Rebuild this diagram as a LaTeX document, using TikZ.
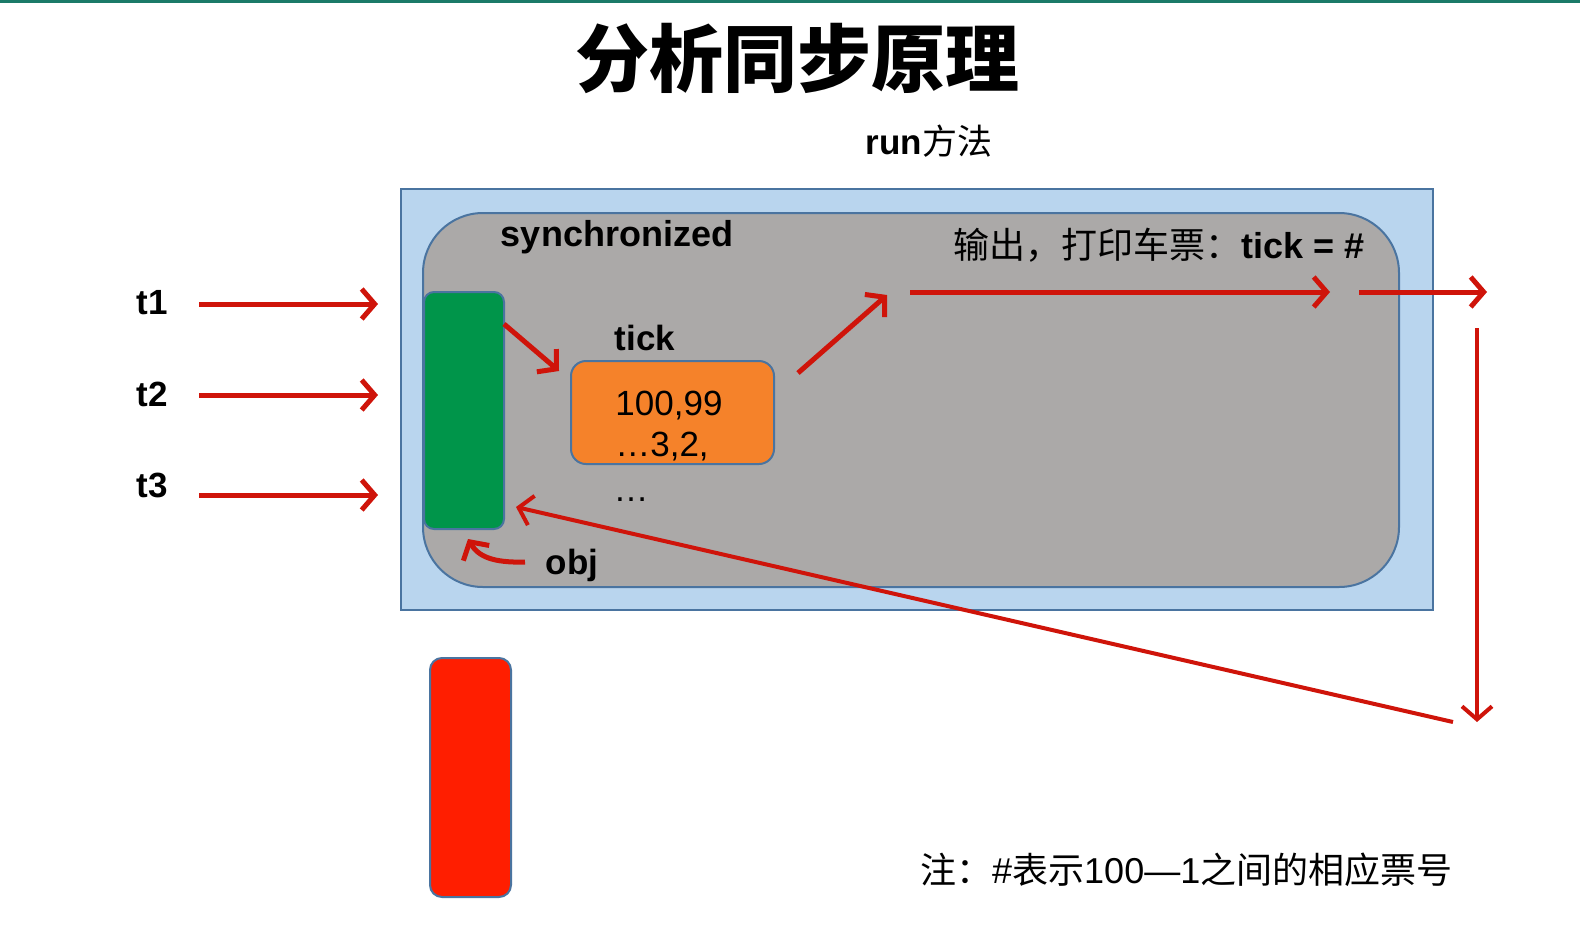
\documentclass[tikz,border=0pt]{standalone}
\usepackage{fontspec}
\setmainfont{Liberation Sans}
\newfontfamily\cjk{Noto Sans CJK SC}
\usetikzlibrary{arrows.meta}
\definecolor{topline}{HTML}{1B7A68}
\definecolor{lightblue}{HTML}{B9D5EE}
\definecolor{edgeblue}{HTML}{4A74A0}
\definecolor{graybox}{HTML}{ABA9A8}
\definecolor{greenbox}{HTML}{00954A}
\definecolor{orangebox}{HTML}{F5822A}
\definecolor{redbox}{HTML}{FF1E00}
\definecolor{arrowred}{HTML}{CF140A}
\tikzset{
  box/.style={draw=edgeblue, line width=2pt, inner sep=0pt},
  redarrow/.style={draw=arrowred, line width=5pt, -{Straight Barb[length=13pt,width=30pt]}},
  thinarrow/.style={draw=arrowred, line width=4pt, -{Straight Barb[length=13pt,width=30pt]}},
  lbl/.style={inner sep=0pt, font=\bfseries\fontsize{35}{35}\selectfont},
  num/.style={inner sep=0pt, font=\fontsize{35}{35}\selectfont},
}
\begin{document}
\begin{tikzpicture}[x=1pt,y=-1pt]
\useasboundingbox (0,0) rectangle (1580,951);
\fill[white] (0,0) rectangle (1580,951);
\fill[topline] (0,0) rectangle (1580,3);

% title
\node[inner sep=0pt, font=\cjk\bfseries\fontsize{74}{74}\selectfont] (title) at (797,58) {分析同步原理};
\node[inner sep=0pt, font=\fontsize{35}{35}\selectfont] (run) at (929,141) {\bfseries run{\cjk\mdseries 方法}};

% boxes
\node[box, fill=lightblue, minimum width=1032, minimum height=421] (outer) at (917,399.5) {};
\node[box, fill=graybox, rounded corners=60pt, minimum width=976, minimum height=374] (sync) at (911,400) {};
\node[box, fill=greenbox, rounded corners=10pt, minimum width=80, minimum height=237] (green) at (464,410.5) {};
\node[box, fill=orangebox, rounded corners=15pt, minimum width=203, minimum height=103] (tickbox) at (672.5,412.5) {};
\node[box, fill=redbox, rounded corners=12pt, minimum width=81, minimum height=239] (redr) at (470.5,777.5) {};

% texts
\node[lbl, font=\bfseries\fontsize{36}{36}\selectfont] (synctxt) at (617,237) {synchronized};
\node[lbl] (t1) at (152,303) {t1};
\node[lbl] (t2) at (152,394) {t2};
\node[lbl] (t3) at (152,485) {t3};
\node[lbl] (ticktxt) at (645,338) {tick};
\node[num] (n1) at (669,406) {100,99};
\node[num] (n2) at (662,447) {…3,2,};
\node[num] (n3) at (631,500) {…};
\node[lbl] (obj) at (572,565) {obj};
\node[inner sep=0pt, font=\fontsize{36}{36}\selectfont, anchor=west] (out) at (953,245) {{\cjk 输出，打印车票：}\bfseries tick = \#};
\node[inner sep=0pt, font=\fontsize{36}{36}\selectfont, anchor=west] (note) at (920,870) {{\cjk 注：}\#{\cjk 表示}100—1{\cjk 之间的相应票号}};

% connector end points
\coordinate (a1s) at (199,304); \coordinate (a1e) at (378,304);
\coordinate (a2s) at (199,395); \coordinate (a2e) at (378,395);
\coordinate (a3s) at (199,495); \coordinate (a3e) at (378,495);
\coordinate (g1) at (504,324); \coordinate (tk1) at (559,371);
\coordinate (tk2) at (798,373); \coordinate (up) at (887,295);
\coordinate (h1s) at (910,292); \coordinate (h1e) at (1330,292);
\coordinate (h2s) at (1359,292); \coordinate (h2e) at (1487,292);
\coordinate (vs) at (1477,328); \coordinate (ve) at (1477,722);
\coordinate (ls) at (1453,722); \coordinate (le) at (516,507);
\coordinate (os) at (525,562); \coordinate (oe) at (468,539);

\draw[redarrow] (a1s) -- (a1e);
\draw[redarrow] (a2s) -- (a2e);
\draw[redarrow] (a3s) -- (a3e);
\draw[redarrow] (g1) -- (tk1);
\draw[redarrow] (tk2) -- (up);
\draw[redarrow] (h1s) -- (h1e);
\draw[redarrow] (h2s) -- (h2e);
\draw[thinarrow] (vs) -- (ve);
\draw[thinarrow] (ls) -- (le);
\draw[redarrow] (os) .. controls (492,563) and (478,556) .. (oe);
\end{tikzpicture}
\end{document}
